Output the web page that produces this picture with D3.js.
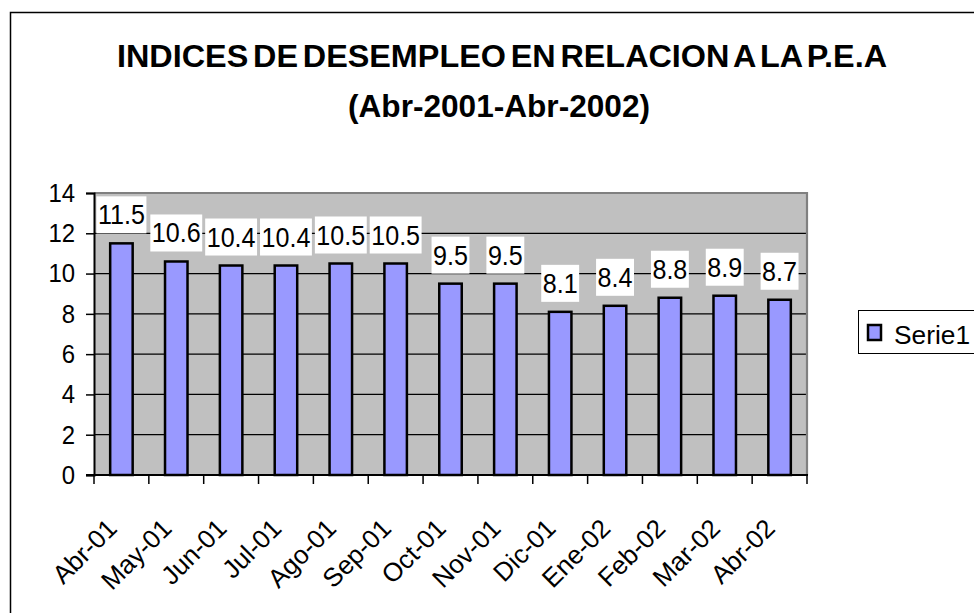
<!DOCTYPE html>
<html><head><meta charset="utf-8">
<script src="https://cdn.jsdelivr.net/npm/d3@7"></script>
<style>html,body{margin:0;padding:0;background:#fff;}svg{display:block;font-family:Arial,"Liberation Sans",sans-serif;}</style>
</head><body>
<svg id="c" width="974" height="613"></svg>
<script>
const categories = ["Abr-01","May-01","Jun-01","Jul-01","Ago-01","Sep-01","Oct-01","Nov-01","Dic-01","Ene-02","Feb-02","Mar-02","Abr-02"];
const values = [11.5,10.6,10.4,10.4,10.5,10.5,9.5,9.5,8.1,8.4,8.8,8.9,8.7];
const yTicks = [0,2,4,6,8,10,12,14];
const seriesName = "Serie1";
const titleLines = ["INDICES DE DESEMPLEO EN RELACION A LA P.E.A","(Abr-2001-Abr-2002)"];

const svg = d3.select("#c");
const L = 94, R = 807, T = 193, B = 475;

// outer chart frame
svg.append("rect").attr("x",10.5).attr("y",12.5).attr("width",1000).attr("height",700)
  .attr("fill","#fff").attr("stroke","#000").attr("stroke-width",1.5);

// title
const tl = svg.append("g").attr("font-weight","bold").attr("font-size",31).attr("fill","#000");
tl.append("text").attr("x",502).attr("y",67).attr("text-anchor","middle").attr("word-spacing",-4)
  .attr("textLength",770).attr("lengthAdjust","spacingAndGlyphs").text(titleLines[0]);
tl.append("text").attr("x",499).attr("y",117).attr("text-anchor","middle")
  .attr("textLength",302).attr("lengthAdjust","spacingAndGlyphs").text(titleLines[1]);

const x = d3.scaleBand().domain(categories).range([L,R]).padding(0);
const y = d3.scaleLinear().domain([0,14]).range([B,T]);

// plot background
svg.append("rect").attr("x",L).attr("y",T).attr("width",R-L).attr("height",B-T).attr("fill","#C0C0C0");

// gridlines
svg.append("g").selectAll("line").data(yTicks.filter(d=>d>0&&d<14)).join("line")
  .attr("x1",L).attr("x2",R).attr("y1",d=>y(d)).attr("y2",d=>y(d))
  .attr("stroke","#000").attr("stroke-width",1.3);

// plot border top/right gray
svg.append("path").attr("d",`M${L},${T}H${R}V${B}`).attr("fill","none")
  .attr("stroke","#808080").attr("stroke-width",2.2);

// bars
const bw = x.bandwidth()*0.41;
svg.append("g").selectAll("rect").data(values).join("rect")
  .attr("x",(d,i)=>x(categories[i])+x.bandwidth()/2-bw/2)
  .attr("y",d=>y(d)).attr("width",bw).attr("height",d=>B-y(d))
  .attr("fill","#9999FF").attr("stroke","#000").attr("stroke-width",2.5);

// y axis
const ya = d3.axisLeft(y).tickValues(yTicks).tickSize(8).tickPadding(11).tickFormat(d3.format("d"));
const yg = svg.append("g").attr("transform",`translate(${L},0)`).call(ya);
yg.select(".domain").attr("stroke","#000").attr("stroke-width",2);
yg.selectAll(".tick line").attr("stroke","#000").attr("stroke-width",1.5);
yg.selectAll(".tick text").attr("font-size",26).attr("font-family","Arial,'Liberation Sans',sans-serif").attr("fill","#000")
  .each(function(){ const n=this.getComputedTextLength(); d3.select(this).attr("textLength",n*0.92).attr("lengthAdjust","spacingAndGlyphs"); });

// x axis
const bounds = categories.map(c=>x(c)).concat([R]);
const xg = svg.append("g");
xg.append("line").attr("x1",L-8).attr("x2",R+1).attr("y1",B).attr("y2",B).attr("stroke","#000").attr("stroke-width",2);
xg.selectAll("line.t").data(bounds).join("line").attr("class","t")
  .attr("x1",d=>d).attr("x2",d=>d).attr("y1",B).attr("y2",B+9).attr("stroke","#000").attr("stroke-width",1.5);
xg.selectAll("text").data(categories).join("text")
  .attr("transform",d=>`translate(${x(d)+x.bandwidth()/2-3},${B+55}) rotate(-45)`)
  .attr("text-anchor","end").attr("font-size",26).attr("fill","#000").text(d=>d);

// data labels
const lg = svg.append("g");
values.forEach((v,i)=>{
  const cx = x(categories[i])+x.bandwidth()/2;
  const baseY = y(v)-19;
  const g = lg.append("g");
  const t = g.append("text").attr("x",cx).attr("y",baseY).attr("text-anchor","middle")
    .attr("font-size",27).attr("fill","#000").text(d3.format(".1f")(v));
  const n = t.node().getComputedTextLength();
  t.attr("textLength",n*0.93).attr("lengthAdjust","spacingAndGlyphs");
  const w = n*0.93+3;
  g.insert("rect","text").attr("x",cx-w/2).attr("y",baseY-28).attr("width",w).attr("height",37).attr("fill","#fff");
});

// legend
svg.append("rect").attr("x",858.5).attr("y",310.5).attr("width",120).attr("height",43)
  .attr("fill","#fff").attr("stroke","#000").attr("stroke-width",1);
svg.append("rect").attr("x",868).attr("y",325).attr("width",13).attr("height",15)
  .attr("fill","#9999FF").attr("stroke","#000").attr("stroke-width",2.5);
svg.append("text").attr("x",894).attr("y",344).attr("font-size",26).attr("fill","#000")
  .attr("textLength",76).attr("lengthAdjust","spacingAndGlyphs").text(seriesName);
</script>
</body></html>
